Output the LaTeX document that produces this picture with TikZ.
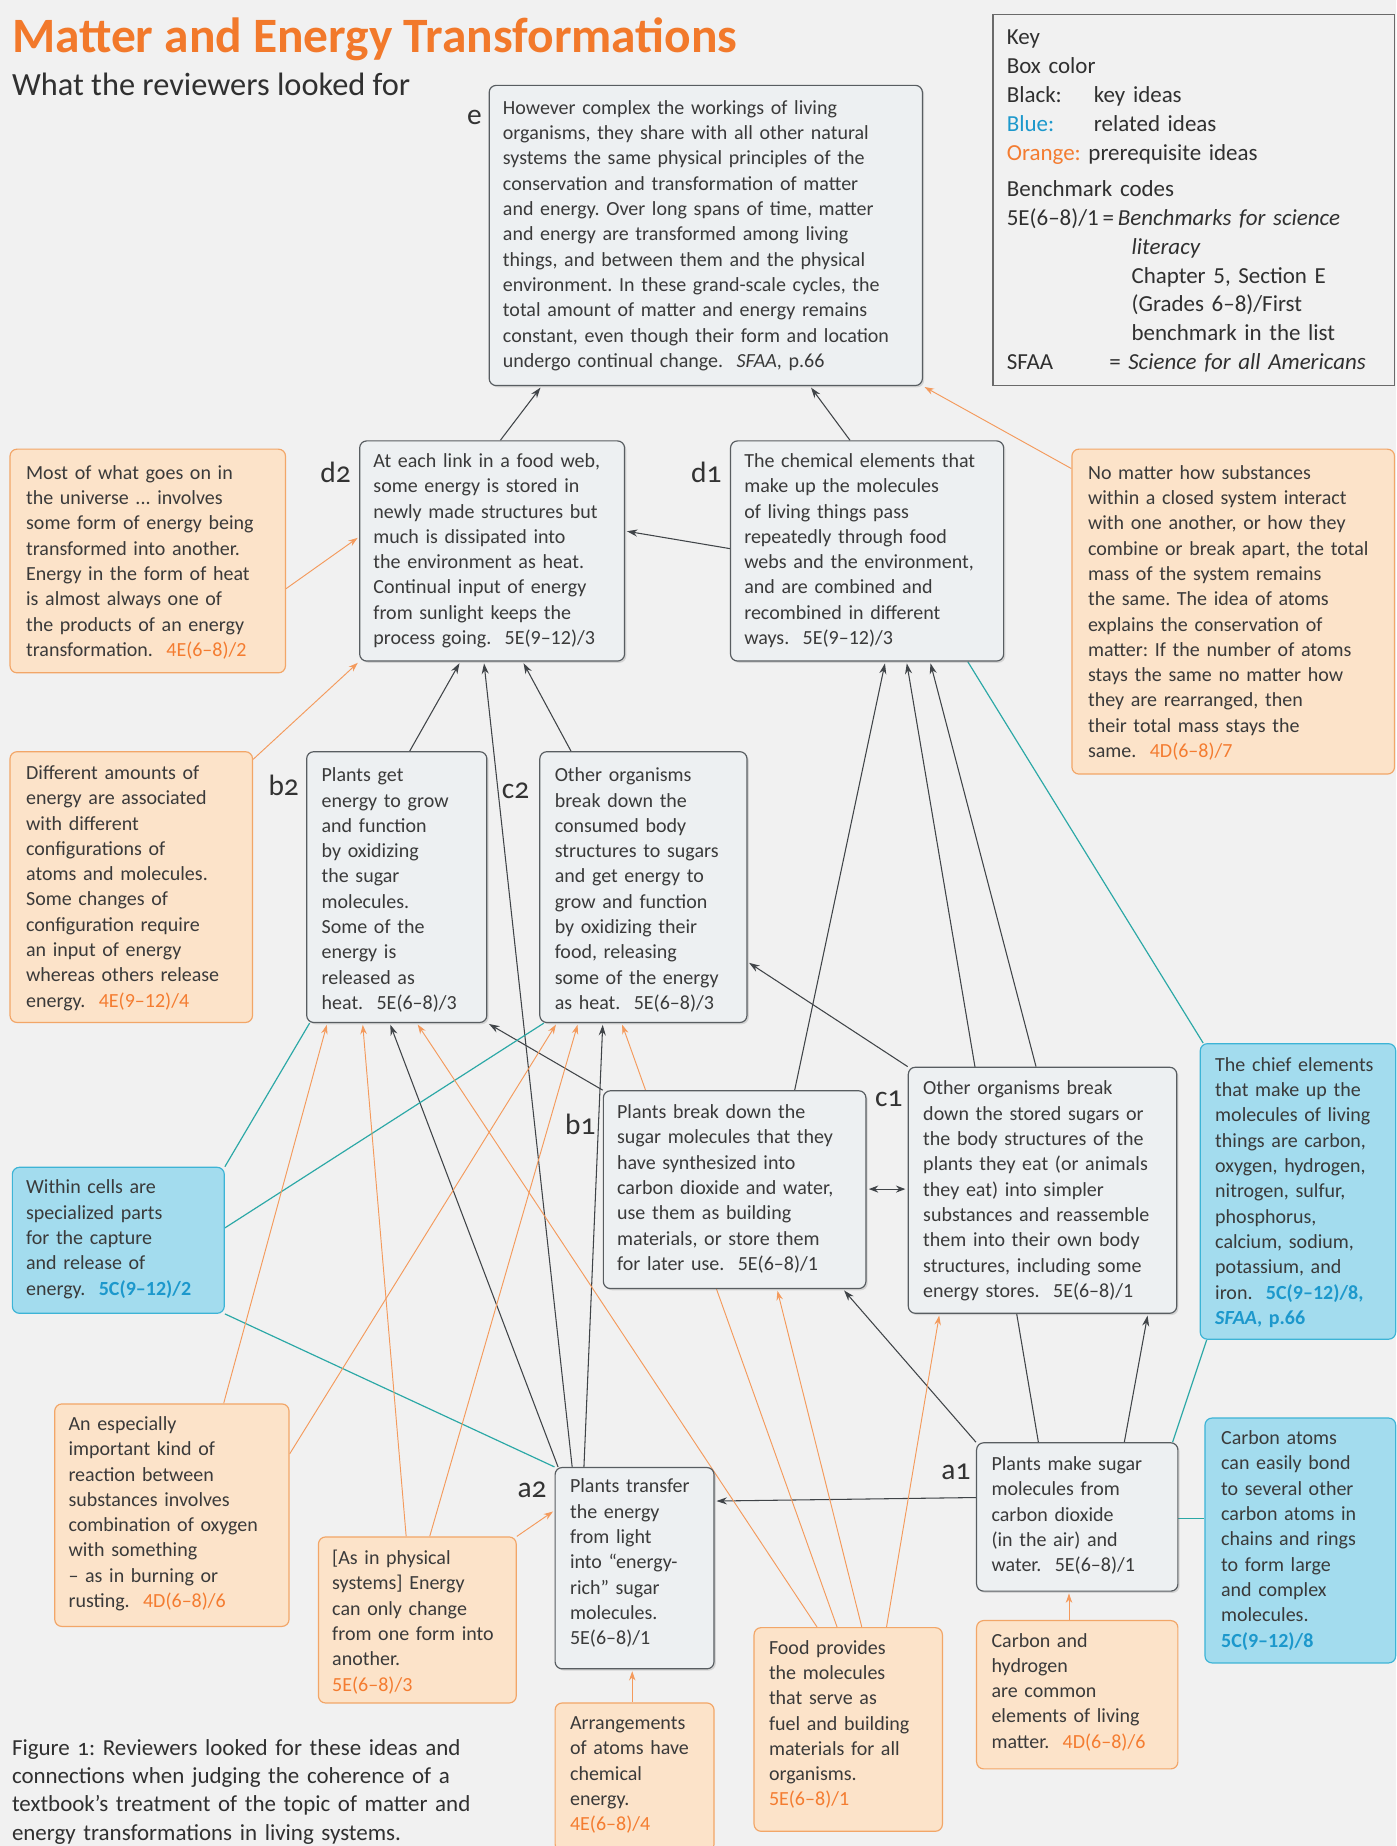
\documentclass[tikz,border=0pt]{standalone}
\usepackage{fontspec}
\setmainfont{Carlito}
\usetikzlibrary{arrows.meta,shadows,calc}
\frenchspacing
\definecolor{bgc}{HTML}{F1F1F1}
\definecolor{ttlc}{HTML}{F2792B}
\definecolor{subc}{HTML}{303030}
\definecolor{txtc}{HTML}{3A3A3A}
\definecolor{labc}{HTML}{333333}
\definecolor{kfill}{HTML}{EDF0F2}
\definecolor{kdraw}{HTML}{585D61}
\definecolor{ofill}{HTML}{FCE3C9}
\definecolor{odraw}{HTML}{F2A668}
\definecolor{ocode}{HTML}{F47C30}
\definecolor{bfill}{HTML}{A3DCEE}
\definecolor{bdraw}{HTML}{3DB4D6}
\definecolor{bcode}{HTML}{1C98CC}
\definecolor{linec}{HTML}{404448}
\definecolor{olinec}{HTML}{F49A5C}
\definecolor{tealc}{HTML}{2BA8A6}
\definecolor{keyc}{HTML}{6A6A6A}
\newcommand\bodyfont{\fontsize{17}{21.5}\selectfont}
\newcommand\oc[1]{{\color{ocode}#1}}
\newcommand\bc[1]{{\color{bcode}\bfseries #1}}
\newcommand\bx[6]{\node[#2,anchor=north west,inner sep=0pt,minimum width={(#5)-(#3)},minimum height={(#6)-(#4)}] (#1) at (#3,#4) {};}
\pgfdeclarelayer{back}
\pgfdeclarelayer{lines}
\pgfsetlayers{back,lines,main}
\tikzset{
  kbox/.style={draw=kdraw, fill=kfill, rounded corners=6pt, line width=1pt, drop shadow={shadow xshift=1.5pt,shadow yshift=-1.5pt,opacity=0.25}},
  obox/.style={draw=odraw, fill=ofill, rounded corners=6pt, line width=1pt},
  bbox/.style={draw=bdraw, fill=bfill, rounded corners=6pt, line width=1pt},
  keybox/.style={draw=keyc, line width=1pt},
  btxt/.style={anchor=base west, inner sep=0pt, align=left, text width=380pt, font=\bodyfont, text=txtc},
  lab/.style={font=\fontsize{25}{25}\selectfont\addfontfeatures{Numbers=OldStyle}, text=labc, inner sep=0pt},
  kar/.style={draw=linec, line width=0.9pt, shorten >=1.5pt, -{Stealth[length=9pt,width=6pt]}},
  dar/.style={draw=linec, line width=0.9pt, {Stealth[length=8pt,width=6pt]}-{Stealth[length=8pt,width=6pt]}},
  oar/.style={draw=olinec, line width=0.8pt, shorten >=1.5pt, -{Stealth[length=8pt,width=5.5pt]}},
  tln/.style={draw=tealc, line width=1pt},
}
\begin{document}
\begin{tikzpicture}[x=1pt,y=-1pt]
\useasboundingbox (0,0) rectangle (1186,1568);
\begin{pgfonlayer}{back}
\fill[bgc] (0,0) rectangle (1186,1568);
\end{pgfonlayer}

% title
\node[anchor=base west, inner sep=0pt, text=ttlc, font=\fontsize{42}{42}\selectfont\bfseries] (title) at (10,45) {Matter and Energy Transformations};
\node[anchor=base west, inner sep=0pt, text=subc, font=\fontsize{27.5}{27.5}\selectfont] (subtitle) at (10,81) {What the reviewers looked for};

% key
\bx{key}{keybox}{843}{12}{1184}{327}
\node[anchor=base west, inner sep=0pt, align=left, text width=330pt, text=subc, font=\fontsize{19.5}{24.5}\selectfont] (keyt) at (855,38) {Key\\
Box color\\
\makebox[74pt][l]{Black:}key ideas\\
\makebox[74pt][l]{\color{bcode}Blue:}related ideas\\
{\color{ocode}Orange:} prerequisite ideas\\[6.5pt]
Benchmark codes\\
5E(6–8)/1\,=\,\textit{Benchmarks for science}\\
\hspace*{106pt}\textit{literacy}\\
\hspace*{106pt}Chapter 5, Section E\\
\hspace*{106pt}(Grades 6–8)/First\\
\hspace*{106pt}benchmark in the list\\
\makebox[87pt][l]{SFAA}= \textit{Science for all Americans}};

% boxes
\bx{e}{kbox}{415}{72}{783}{327}
\node[btxt] (et) at (427,97) {However complex the workings of living\\
organisms, they share with all other natural\\
systems the same physical principles of the\\
conservation and transformation of matter\\
and energy. Over long spans of time, matter\\
and energy are transformed among living\\
things, and between them and the physical\\
environment. In these grand-scale cycles, the\\
total amount of matter and energy remains\\
constant, even though their form and location\\
undergo continual change.\ \ \textit{SFAA}, p.66};

\bx{d2}{kbox}{305}{374}{530}{561}
\node[btxt] (d2t) at (317,397) {At each link in a food web,\\
some energy is stored in\\
newly made structures but\\
much is dissipated into\\
the environment as heat.\\
Continual input of energy\\
from sunlight keeps the\\
process going.\ \ 5E(9–12)/3};

\bx{d1}{kbox}{620}{374}{852}{561}
\node[btxt] (d1t) at (632,397) {The chemical elements that\\
make up the molecules\\
of living things pass\\
repeatedly through food\\
webs and the environment,\\
and are combined and\\
recombined in different\\
ways.\ \ 5E(9–12)/3};

\bx{om}{obox}{8}{381}{242}{571}
\node[btxt] (omt) at (22,407) {Most of what goes on in\\
the universe ... involves\\
some form of energy being\\
transformed into another.\\
Energy in the form of heat\\
is almost always one of\\
the products of an energy\\
transformation.\ \ \oc{4E(6–8)/2}};

\bx{nm}{obox}{910}{381}{1184}{657}
\node[btxt] (nmt) at (924,407) {No matter how substances\\
within a closed system interact\\
with one another, or how they\\
combine or break apart, the total\\
mass of the system remains\\
the same. The idea of atoms\\
explains the conservation of\\
matter: If the number of atoms\\
stays the same no matter how\\
they are rearranged, then\\
their total mass stays the\\
same.\ \ \oc{4D(6–8)/7}};

\bx{da}{obox}{8}{638}{214}{868}
\node[btxt] (dat) at (22,662) {Different amounts of\\
energy are associated\\
with different\\
configurations of\\
atoms and molecules.\\
Some changes of\\
configuration require\\
an input of energy\\
whereas others release\\
energy.\ \ \oc{4E(9–12)/4}};

\bx{b2}{kbox}{260}{638}{413}{868}
\node[btxt] (b2t) at (273,664) {Plants get\\
energy to grow\\
and function\\
by oxidizing\\
the sugar\\
molecules.\\
Some of the\\
energy is\\
released as\\
heat.\ \ 5E(6–8)/3};

\bx{c2}{kbox}{458}{638}{634}{868}
\node[btxt] (c2t) at (471,664) {Other organisms\\
break down the\\
consumed body\\
structures to sugars\\
and get energy to\\
grow and function\\
by oxidizing their\\
food, releasing\\
some of the energy\\
as heat.\ \ 5E(6–8)/3};

\bx{wc}{bbox}{10}{991}{190}{1115}
\node[btxt] (wct) at (22,1014) {Within cells are\\
specialized parts\\
for the capture\\
and release of\\
energy.\ \ \bc{5C(9–12)/2}};

\bx{b1}{kbox}{512}{926}{735}{1094}
\node[btxt] (b1t) at (524,950) {Plants break down the\\
sugar molecules that they\\
have synthesized into\\
carbon dioxide and water,\\
use them as building\\
materials, or store them\\
for later use.\ \ 5E(6–8)/1};

\bx{c1}{kbox}{771}{906}{999}{1115}
\node[btxt] (c1t) at (784,930) {Other organisms break\\
down the stored sugars or\\
the body structures of the\\
plants they eat (or animals\\
they eat) into simpler\\
substances and reassemble\\
them into their own body\\
structures, including some\\
energy stores.\ \ 5E(6–8)/1};

\bx{ce}{bbox}{1019}{886}{1185}{1137}
\node[btxt] (cet) at (1032,910) {The chief elements\\
that make up the\\
molecules of living\\
things are carbon,\\
oxygen, hydrogen,\\
nitrogen, sulfur,\\
phosphorus,\\
calcium, sodium,\\
potassium, and\\
iron.\ \ \bc{5C(9–12)/8,}\\
\bc{\textit{SFAA}, p.66}};

\bx{ae}{obox}{46}{1192}{245}{1381}
\node[btxt] (aet) at (58,1215) {An especially\\
important kind of\\
reaction between\\
substances involves\\
combination of oxygen\\
with something\\
– as in burning or\\
rusting.\ \ \oc{4D(6–8)/6}};

\bx{a2}{kbox}{471}{1246}{606}{1417}
\node[btxt] (a2t) at (484,1268) {Plants transfer\\
the energy\\
from light\\
into “energy-\\
rich” sugar\\
molecules.\\
5E(6–8)/1};

\bx{a1}{kbox}{829}{1225}{1000}{1351}
\node[btxt] (a1t) at (842,1249) {Plants make sugar\\
molecules from\\
carbon dioxide\\
(in the air) and\\
water.\ \ 5E(6–8)/1};

\bx{ca}{bbox}{1023}{1204}{1185}{1412}
\node[btxt] (cat) at (1037,1227) {Carbon atoms\\
can easily bond\\
to several other\\
carbon atoms in\\
chains and rings\\
to form large\\
and complex\\
molecules.\\
\bc{5C(9–12)/8}};

\bx{ap}{obox}{270}{1305}{438}{1446}
\node[btxt] (apt) at (282,1329) {[As in physical\\
systems] Energy\\
can only change\\
from one form into\\
another.\\
\oc{5E(6–8)/3}};

\bx{ar}{obox}{471}{1446}{606}{1572}
\node[btxt] (art) at (484,1469) {Arrangements\\
of atoms have\\
chemical\\
energy.\\
\oc{4E(6–8)/4}};

\bx{fp}{obox}{640}{1382}{800}{1555}
\node[btxt] (fpt) at (653,1405) {Food provides\\
the molecules\\
that serve as\\
fuel and building\\
materials for all\\
organisms.\\
\oc{5E(6–8)/1}};

\bx{ch}{obox}{829}{1376}{1000}{1502}
\node[btxt] (cht) at (842,1399) {Carbon and\\
hydrogen\\
are common\\
elements of living\\
matter.\ \ \oc{4D(6–8)/6}};

% caption
\node[anchor=base west, inner sep=0pt, align=left, text width=420pt, text=subc, font=\fontsize{19.5}{24}\selectfont] (caption) at (10,1491) {Figure {\addfontfeatures{Numbers=OldStyle}1}: Reviewers looked for these ideas and\\
connections when judging the coherence of a\\
textbook’s treatment of the topic of matter and\\
energy transformations in living systems.};

% labels
\node[lab] (le) at (403,100) {e};
\node[lab] (ld2) at (285,401) {d2};
\node[lab] (ld1) at (600,401) {d1};
\node[lab] (lb2) at (241,667) {b2};
\node[lab] (lc2) at (438,672) {c2};
\node[lab] (lb1) at (493,955) {b1};
\node[lab] (lc1) at (755,933) {c1};
\node[lab] (la2) at (452,1265) {a2};
\node[lab] (la1) at (812,1250) {a1};

\begin{pgfonlayer}{lines}
% black
\draw[kar] ($(d2.north west)+(120,0)$) -- ($(e.south west)+(45,0)$);
\draw[kar] ($(d1.north west)+(102,0)$) -- ($(e.south west)+(273,0)$);
\draw[kar] ($(d1.north west)+(0,92)$) -- ($(d2.north east)+(0,77)$);
\draw[kar] ($(b2.north west)+(88,0)$) -- ($(d2.south west)+(86,0)$);
\draw[kar] ($(c2.north west)+(27,0)$) -- ($(d2.south west)+(139,0)$);
\draw[kar] ($(a2.north west)+(15,0)$) -- ($(d2.south west)+(106,0)$);
\draw[kar] ($(a2.north west)+(3,0)$) -- ($(b2.south west)+(71,0)$);
\draw[kar] ($(a2.north west)+(25,0)$) -- ($(c2.south west)+(54,0)$);
\draw[kar] (b1.north west) -- (b2.south east);
\draw[kar] ($(b1.north west)+(163,0)$) -- ($(d1.south west)+(132,0)$);
\draw[kar] ($(a1.north west)+(53,0)$) -- ($(d1.south west)+(150,0)$);
\draw[kar] ($(c1.north west)+(109,0)$) -- ($(d1.south west)+(170,0)$);
\draw[kar] (c1.north west) -- ($(c2.south east)+(0,-52)$);
\draw[kar] (a1.north west) -- ($(b1.south east)+(-20,0)$);
\draw[kar] ($(a1.north west)+(0,47)$) -- ($(a2.north east)+(0,29)$);
\draw[kar] ($(a1.north west)+(126,0)$) -- ($(c1.south west)+(204,0)$);
\draw[dar] ($(b1.north east)+(2,84)$) -- ($(c1.north west)+(-2,104)$);
% teal
\draw[tln] ($(d1.south west)+(202,0)$) -- ($(ce.north west)+(3,0)$);
\draw[tln] ($(a1.north east)+(-5,0)$) -- ($(ce.south west)+(6,0)$);
\draw[tln] ($(a1.north east)+(0,65)$) -- ($(ca.north west)+(0,86)$);
\draw[tln] (wc.north east) -- ($(b2.south west)+(3,0)$);
\draw[tln] ($(wc.north east)+(0,52)$) -- ($(c2.south west)+(4,0)$);
\draw[tln] (wc.south east) -- (a2.north west);
% orange
\draw[oar] ($(om.north east)+(0,119)$) -- ($(d2.north west)+(0,82)$);
\draw[oar] ($(da.north east)+(0,7)$) -- (d2.south west);
\draw[oar] ($(nm.north west)+(0,17)$) -- (e.south east);
\draw[oar] ($(ar.north west)+(66,0)$) -- ($(a2.south west)+(66,0)$);
\draw[oar] ($(ch.north west)+(79,0)$) -- ($(a1.south west)+(79,0)$);
\draw[oar] (ap.north east) -- ($(a2.north west)+(0,37)$);
\draw[oar] ($(ae.north west)+(144,0)$) -- ($(b2.south west)+(18,0)$);
\draw[oar] ($(ae.north east)+(0,43)$) -- ($(c2.south west)+(15,0)$);
\draw[oar] ($(ap.north west)+(75,0)$) -- ($(b2.south west)+(48,0)$);
\draw[oar] ($(ap.north west)+(95,0)$) -- ($(c2.south west)+(33,0)$);
\draw[oar] ($(fp.north west)+(54,0)$) -- ($(b2.south west)+(94,0)$);
\draw[oar] ($(fp.north west)+(71,0)$) -- ($(c2.south west)+(70,0)$);
\draw[oar] ($(fp.north west)+(92,0)$) -- ($(b1.south west)+(148,0)$);
\draw[oar] ($(fp.north west)+(113,0)$) -- ($(c1.south west)+(27,0)$);
\end{pgfonlayer}
\end{tikzpicture}
\end{document}
